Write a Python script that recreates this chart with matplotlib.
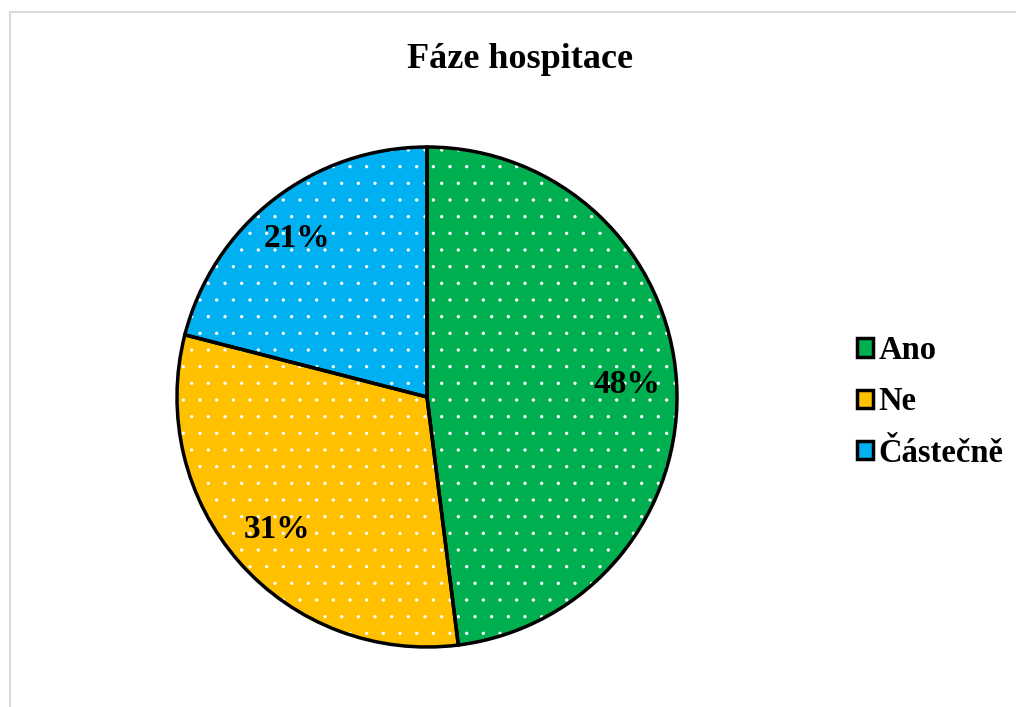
import matplotlib
matplotlib.use("Agg")
import matplotlib.pyplot as plt
from matplotlib.patches import Patch, Rectangle

# data
labels = ["Ano", "Ne", "Částečně"]
values = [48, 31, 21]
colors = ["#00b050", "#ffc000", "#00b0f0"]
title = "Fáze hospitace"

plt.rcParams["font.family"] = ["Liberation Serif", "DejaVu Serif"]
plt.rcParams["font.weight"] = "bold"
plt.rcParams["hatch.linewidth"] = 0.0

fig = plt.figure(figsize=(10.16, 7.07), dpi=100)
W, H = 1016, 707

# light grey chart frame
fig.patches.append(Rectangle((10 / W, -0.05), 1.1, 1 - 12 / H + 0.05,
                             transform=fig.transFigure, fill=False,
                             edgecolor="#d9d9d9", lw=1.5))

cx, cy, r = 427, 397, 250
pad = 6
ax = fig.add_axes([(cx - r - pad) / W, (H - cy - r - pad) / H,
                   2 * (r + pad) / W, 2 * (r + pad) / H])

# dotted fill: hatch colour follows edgecolor, so edges white here
ax.pie(values, colors=colors, startangle=90, counterclock=False,
       wedgeprops=dict(edgecolor="white", linewidth=0, hatch="."))
# black outlines on top
wedges, texts, autotexts = ax.pie(
    values, startangle=90, counterclock=False, autopct="%1.0f%%",
    pctdistance=0.8,
    wedgeprops=dict(fill=False, edgecolor="black", linewidth=2.5),
    textprops=dict(fontsize=24, fontweight="bold", color="black"))
autotexts[2].set_position((autotexts[2].get_position()[0] - 0.03,
                           autotexts[2].get_position()[1]))
lim = (r + pad) / r
ax.set_xlim(-lim, lim)
ax.set_ylim(-lim, lim)

fig.text(520 / W, 1 - 59 / H, title, ha="center", va="center",
         fontsize=26, fontweight="bold")

handles = [Patch(facecolor=c, edgecolor="black", linewidth=2.5) for c in colors]
fig.legend(handles, labels, loc="center left",
           bbox_to_anchor=(857 / W, 1 - 402 / H), frameon=False,
           fontsize=23.5, handlelength=0.5, handleheight=0.5,
           handletextpad=0.15, labelspacing=0.62, borderpad=0,
           borderaxespad=0)

fig.savefig("out.png", dpi=100)
